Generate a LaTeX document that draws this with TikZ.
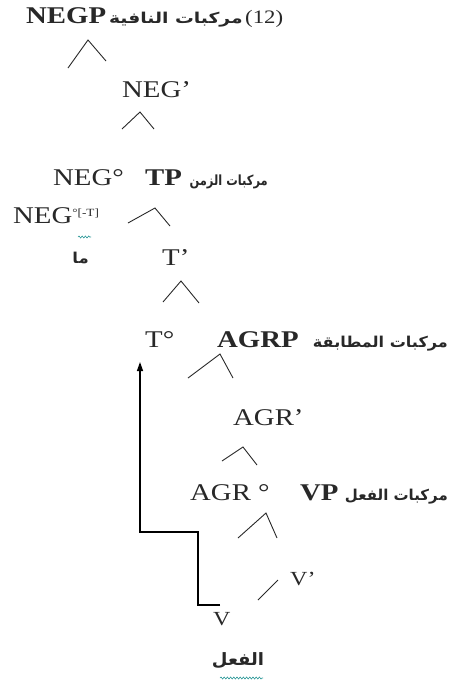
\documentclass[tikz,border=0pt]{standalone}
\usepackage{fontspec}
\setmainfont{Liberation Serif}[FakeStretch=1.2]
\newfontfamily\arabicfont[Script=Arabic]{DejaVu Sans}
\TeXXeTstate=1
\usetikzlibrary{arrows.meta,decorations.pathmorphing}
\definecolor{ink}{RGB}{40,40,40}
\definecolor{wavy}{RGB}{40,150,150}
\begin{document}
\begin{tikzpicture}[x=1pt,y=-1pt,
  lat/.style={inner sep=0pt,anchor=base west,text=ink,font=\fontsize{24}{24}\selectfont},
  latb/.style={lat,font=\fontsize{24}{24}\selectfont\bfseries},
  ar/.style={inner sep=0pt,anchor=base east,text=ink,font=\fontsize{15}{16}\selectfont\arabicfont\bfseries},
  branch/.style={draw=ink,line width=0.9pt},
  movearrow/.style={draw=black,line width=1.3pt,-{Triangle[length=9pt,width=6pt]}},
  squiggle/.style={draw=wavy,line width=0.6pt,decorate,decoration={snake,amplitude=1pt,segment length=3.2pt}}]
\useasboundingbox (0,0) rectangle (449,686);

% NEGP level
\node[latb] (negp) at (26,23) {NEGP};
\node[ar] (negpar) at (243,23) {\scalebox{1.25}[1]{\beginR مركبات النافية\endR}};
\node[lat,font=\fontsize{19}{19}\selectfont] (num) at (245,23) {(12)};
\path[branch] (68,68) -- (88,40) -- (106,61);

% NEG' level
\node[lat] (negbar) at (122,97) {NEG’};
\path[branch] (122,129) -- (140,112) -- (154,129);

% NEG0 and TP
\node[lat] (neghead) at (53,185) {NEG°};
\node[latb] (tp) at (145,185) {TP};
\node[ar,font=\fontsize{14}{15}\selectfont\arabicfont\bfseries] (tpar) at (268,185) {\scalebox{0.82}[1]{\beginR مركبات الزمن\endR}};
\node[lat] (negneg) at (13,223) {NEG\raisebox{7pt}{\fontsize{11}{11}\selectfont °[-T]}};
\path[branch] (128,223) -- (155,208) -- (170,226);
\path[squiggle] (78,237) -- (91,237);
\node[ar] (ma) at (89,263) {\scalebox{1.1}[1]{\beginR ما\endR}};

% T' level
\node[lat] (tbar) at (162,265) {T’};
\path[branch] (163,302) -- (181,281) -- (199,303);

% T0 and AGRP
\node[lat] (thead) at (145,347) {T°};
\node[latb] (agrp) at (217,347) {AGRP};
\node[ar] (agrpar) at (448,347) {\scalebox{1.07}[1]{\beginR مركبات المطابقة\endR}};
\path[branch] (188,378) -- (220,354) -- (233,378);

% AGR' level
\node[lat] (agrbar) at (233,425) {AGR’};
\path[branch] (222,461) -- (243,447) -- (257,465);

% AGR0 and VP
\node[lat] (agrhead) at (190,500) {AGR °};
\node[latb] (vp) at (300,500) {VP};
\node[ar] (vpar) at (448,500) {\beginR مركبات الفعل\endR};
\path[branch] (238,538) -- (266,513) -- (277,538);

% V' and V
\node[lat,font=\fontsize{20}{20}\selectfont] (vbar) at (290,585) {V’};
\path[branch] (258,600) -- (278,580);
\node[lat,font=\fontsize{20}{20}\selectfont] (v) at (213,625) {V};
\node[ar,anchor=base,font=\fontsize{17}{18}\selectfont\arabicfont\bfseries] (verb) at (238,665) {\scalebox{1.06}[1]{\beginR الفعل\endR}};
\path[squiggle] (220,678) -- (263,678);

% head movement of V up to T0
\coordinate (vtop) at (220,605);
\coordinate (bend) at (198,532);
\coordinate (tip) at (140,362);
\draw[movearrow] (vtop) -| (bend) -| (tip);
\end{tikzpicture}
\end{document}
